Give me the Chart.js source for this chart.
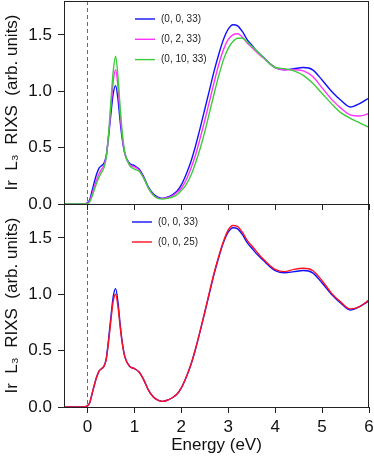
<!DOCTYPE html>
<html lang="en">
<head>
<meta charset="UTF-8">
<title>Ir L3 RIXS</title>
<script src="https://cdn.jsdelivr.net/npm/chart.js@4.4.0/dist/chart.umd.min.js"></script>
<style>
  body { margin: 0; background: #fff; }
  #wrap { position: relative; width: 374px; height: 456px; }
  #wrap canvas { position: absolute; left: 0; }
  #topChart { top: 0; z-index: 2; }
  #botChart { top: 204px; z-index: 1; }
</style>
</head>
<body>
<div id="wrap">
  <canvas id="topChart" width="374" height="216"></canvas>
  <canvas id="botChart" width="374" height="252"></canvas>
</div>
<script>
// energy loss (eV)
const energy = [-0.5, -0.1, 0, 0.05, 0.1, 0.15, 0.2, 0.25, 0.3, 0.35, 0.4, 0.45, 0.5, 0.55, 0.6, 0.65, 0.7, 0.75, 0.8, 0.9,
  1.0, 1.1, 1.2, 1.3, 1.4, 1.5, 1.6, 1.7, 1.8, 1.9, 2.0, 2.1, 2.2, 2.3, 2.4, 2.5, 2.6, 2.7, 2.8, 2.9,
  3.0, 3.1, 3.2, 3.3, 3.4, 3.5, 3.6, 3.7, 3.8, 3.9, 4.0, 4.2, 4.4, 4.6, 4.8, 5.0, 5.2, 5.4, 5.6, 5.8, 6.0];

// (0, 0, 33)
const q0033 = [0, 0, 0.01, 0.04, 0.12, 0.2, 0.27, 0.32, 0.34, 0.36, 0.43, 0.6, 0.8, 0.98, 1.05, 0.93, 0.72, 0.55, 0.44, 0.36,
  0.34, 0.31, 0.24, 0.15, 0.09, 0.06, 0.05, 0.06, 0.08, 0.11, 0.17, 0.26, 0.37, 0.51, 0.67, 0.84, 1.01, 1.18, 1.33, 1.46,
  1.55, 1.59, 1.58, 1.53, 1.46, 1.41, 1.36, 1.32, 1.28, 1.24, 1.21, 1.19, 1.20, 1.21, 1.19, 1.10, 1.00, 0.92, 0.86, 0.89, 0.94];

// (0, 2, 33)
const q0233 = [0, 0, 0.005, 0.03, 0.09, 0.16, 0.22, 0.27, 0.31, 0.34, 0.42, 0.61, 0.86, 1.09, 1.19, 1.04, 0.78, 0.57, 0.44, 0.35,
  0.33, 0.30, 0.23, 0.14, 0.08, 0.055, 0.05, 0.055, 0.07, 0.10, 0.14, 0.21, 0.31, 0.43, 0.58, 0.74, 0.91, 1.08, 1.24, 1.37,
  1.46, 1.50, 1.51, 1.48, 1.43, 1.39, 1.35, 1.31, 1.28, 1.24, 1.21, 1.19, 1.19, 1.18, 1.13, 1.03, 0.93, 0.85, 0.79, 0.78, 0.80];

// (0, 10, 33)
const q01033 = [0, 0, 0, 0.02, 0.07, 0.13, 0.19, 0.24, 0.28, 0.32, 0.41, 0.62, 0.91, 1.18, 1.31, 1.13, 0.84, 0.6, 0.45, 0.34,
  0.31, 0.29, 0.23, 0.14, 0.08, 0.05, 0.045, 0.05, 0.06, 0.08, 0.12, 0.17, 0.25, 0.36, 0.49, 0.64, 0.81, 0.98, 1.14, 1.28,
  1.38, 1.44, 1.47, 1.47, 1.44, 1.40, 1.36, 1.32, 1.28, 1.24, 1.21, 1.20, 1.18, 1.14, 1.07, 0.98, 0.89, 0.81, 0.76, 0.72, 0.68];

// (0, 0, 25)
const q0025 = [0, 0, 0.01, 0.04, 0.12, 0.2, 0.27, 0.32, 0.34, 0.36, 0.42, 0.58, 0.77, 0.94, 1.00, 0.89, 0.70, 0.54, 0.44, 0.36,
  0.34, 0.31, 0.24, 0.15, 0.09, 0.06, 0.05, 0.06, 0.08, 0.11, 0.17, 0.26, 0.37, 0.51, 0.67, 0.84, 1.02, 1.19, 1.34, 1.47,
  1.57, 1.61, 1.60, 1.55, 1.48, 1.43, 1.38, 1.33, 1.29, 1.25, 1.22, 1.20, 1.22, 1.23, 1.21, 1.12, 1.01, 0.93, 0.87, 0.89, 0.95];

const xTicks = [0, 1, 2, 3, 4, 5, 6];
const yTicks = [0, 0.5, 1.0, 1.5];

Chart.defaults.font.family = '"Liberation Sans", Arial, sans-serif';
Chart.defaults.color = '#111';

const axisColor = '#222';

function pts(ys) { return energy.map((e, i) => ({ x: e, y: ys[i] })); }

function line(label, ys, color, order) {
  return {
    label: label, data: pts(ys), borderColor: color, backgroundColor: color,
    borderWidth: 1.4, pointRadius: 0, cubicInterpolationMode: 'monotone', order: order
  };
}

// frame, dashed zero line and the small legend
const decor = {
  id: 'decor',
  beforeDatasetsDraw(chart) {
    const { ctx, chartArea: a, scales } = chart;
    const x0 = scales.x.getPixelForValue(0);
    ctx.save();
    ctx.strokeStyle = '#6a6a6a';
    ctx.lineWidth = 1;
    ctx.setLineDash([4, 3]);
    ctx.beginPath();
    ctx.moveTo(Math.round(x0) + 0.5, a.top);
    ctx.lineTo(Math.round(x0) + 0.5, a.bottom);
    ctx.stroke();
    ctx.restore();
  },
  afterDraw(chart, args, opts) {
    const { ctx, chartArea: a } = chart;
    ctx.save();
    ctx.strokeStyle = axisColor;
    ctx.lineWidth = 1;
    ctx.strokeRect(Math.round(a.left) + 0.5, Math.round(a.top) + 0.5,
      Math.round(a.right - a.left) - 1, Math.round(a.bottom - a.top));
    // legend
    ctx.font = '10px "Liberation Sans", Arial, sans-serif';
    ctx.textBaseline = 'middle';
    ctx.fillStyle = '#222';
    opts.items.forEach((it, i) => {
      const ds = chart.data.datasets[it];
      const y = opts.y + i * opts.gap;
      ctx.strokeStyle = ds.borderColor;
      ctx.lineWidth = 1.4;
      ctx.beginPath();
      ctx.moveTo(opts.x, y);
      ctx.lineTo(opts.x + 20, y);
      ctx.stroke();
      ctx.fillText(ds.label, opts.x + 26, y);
    });
    ctx.restore();
  }
};

function scalesFor(showX) {
  return {
    x: {
      type: 'linear', min: -0.5, max: 6,
      afterBuildTicks: s => { s.ticks = xTicks.map(v => ({ value: v })); },
      afterFit: s => { s.height = showX ? 49 : 12; s.paddingLeft = 0; s.paddingRight = 0; },
      ticks: { callback: v => showX ? String(v) : '', font: { size: 17 }, padding: 4, maxRotation: 0, color: '#111' },
      grid: { drawOnChartArea: false, drawTicks: true, tickLength: 6, color: axisColor },
      border: { display: true, color: axisColor },
      title: { display: showX, text: 'Energy (eV)', font: { size: 17 }, color: '#111', padding: { top: 0, bottom: 0 } }
    },
    y: {
      min: 0, max: 1.8,
      afterBuildTicks: s => { s.ticks = yTicks.map(v => ({ value: v })); },
      afterFit: s => { s.width = 64; s.paddingTop = 0; s.paddingBottom = 0; },
      ticks: { callback: v => v.toFixed(1), font: { size: 17 }, padding: 6, color: '#111' },
      grid: { drawOnChartArea: false, drawTicks: true, tickLength: 6, color: axisColor },
      border: { display: true, color: axisColor },
      title: { display: true, text: 'Ir  L\u2083  RIXS  (arb. units)', font: { size: 17 }, color: '#111', padding: { top: 2, bottom: 0 } }
    }
  };
}

new Chart(document.getElementById('topChart'), {
  type: 'line',
  data: {
    datasets: [
      line('(0, 0, 33)', q0033, '#1010ff', 2),
      line('(0, 2, 33)', q0233, '#ff33ff', 1),
      line('(0, 10, 33)', q01033, '#3ccc3c', 0)
    ]
  },
  options: {
    responsive: false, animation: false, devicePixelRatio: 1,
    layout: { padding: { top: 1, right: 5, left: 0, bottom: 0 } },
    scales: scalesFor(false),
    plugins: { legend: { display: false }, tooltip: { enabled: false },
      decor: { items: [0, 1, 2], x: 135, y: 19, gap: 20.3 } }
  },
  plugins: [decor]
});

new Chart(document.getElementById('botChart'), {
  type: 'line',
  data: {
    datasets: [
      line('(0, 0, 33)', q0033, '#1010ff', 1),
      line('(0, 0, 25)', q0025, '#ff1020', 0)
    ]
  },
  options: {
    responsive: false, animation: false, devicePixelRatio: 1,
    layout: { padding: { top: 0, right: 5, left: 0, bottom: 0 } },
    scales: scalesFor(true),
    plugins: { legend: { display: false }, tooltip: { enabled: false },
      decor: { items: [0, 1], x: 132, y: 18, gap: 20 } }
  },
  plugins: [decor]
});
</script>
</body>
</html>
